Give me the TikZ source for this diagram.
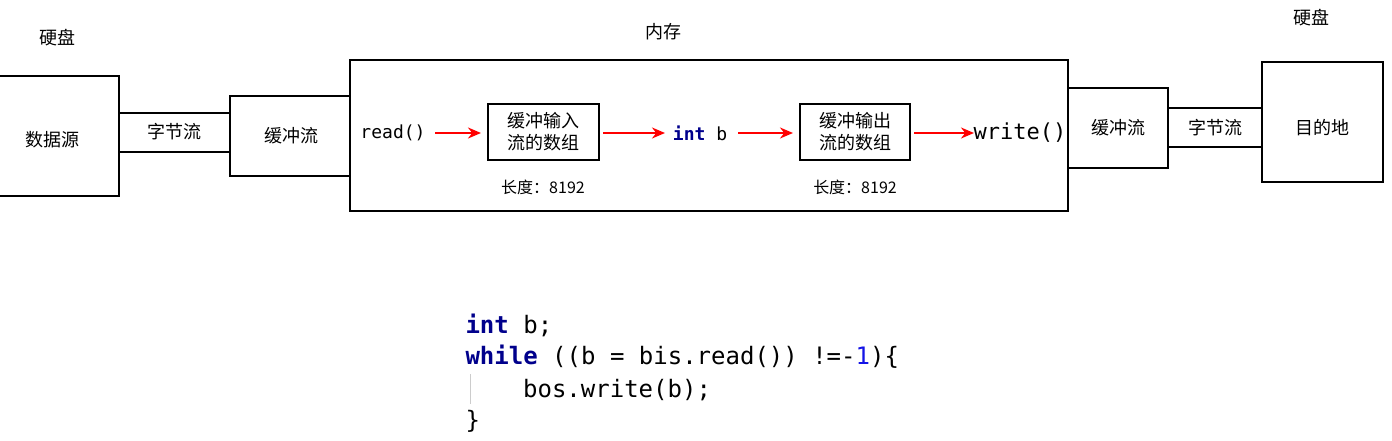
\documentclass[tikz,border=0pt]{standalone}
\usepackage{fontspec}
\setmainfont{Liberation Serif}
\setmonofont{DejaVu Sans Mono}
\newfontfamily\cjk{Noto Sans CJK SC}
\usetikzlibrary{arrows.meta}
\definecolor{kw}{RGB}{0,0,140}
\definecolor{num}{RGB}{20,20,230}
\begin{document}
\begin{tikzpicture}[x=1pt,y=-1pt,
  bx/.style={draw,line width=1.2pt,inner sep=0pt},
  lbl/.style={font=\cjk\fontsize{18}{22}\selectfont},
  ra/.style={draw=red,line width=2.2pt,-{Stealth[length=13pt,width=11pt]}},
  code/.style={anchor=west,font=\ttfamily\fontsize{24}{28}\selectfont}]
\useasboundingbox (0,0) rectangle (1392,441);
\node[lbl] (h1) at (57,38) {硬盘};
\node[lbl] (nc) at (663,32) {内存};
\node[lbl] (h2) at (1311,18) {硬盘};
\draw[bx] (-2,76) rectangle (119,196); \node[lbl] (src) at (52,140) {数据源};
\draw[bx] (119,113) rectangle (230,152); \node[lbl] (bs1) at (174,132) {字节流};
\draw[bx] (230,96) rectangle (350,176); \node[lbl] (bf1) at (291,136) {缓冲流};
\draw[bx] (350,60) rectangle (1068,211);
\node[font=\ttfamily\fontsize{18}{22}\selectfont] (rd) at (393,133) {read()};
\draw[bx] (488,104) rectangle (599,160);
\node[lbl,align=center] (ib) at (543,132) {缓冲输入\\流的数组};
\node[font=\ttfamily\fontsize{18}{22}\selectfont] (ib2) at (700,133) {\textcolor{kw}{\bfseries int} b};
\draw[bx] (800,104) rectangle (910,160);
\node[lbl,align=center] (ob) at (855,132) {缓冲输出\\流的数组};
\node[font=\ttfamily\fontsize{22}{26}\selectfont] (wr) at (1020,133) {write()};
\draw[ra] (435,133) -- (481,133);
\draw[ra] (603,133) -- (665,133);
\draw[ra] (738,133) -- (793,133);
\draw[ra] (914,133) -- (974,133);
\node[font=\cjk\fontsize{16}{18}\selectfont] (l1) at (543,187) {长度：8192};
\node[font=\cjk\fontsize{16}{18}\selectfont] (l2) at (855,187) {长度：8192};
\draw[bx] (1068,88) rectangle (1168,168); \node[lbl] (bf2) at (1118,128) {缓冲流};
\draw[bx] (1168,108) rectangle (1262,147); \node[lbl] (bs2) at (1215,128) {字节流};
\draw[bx] (1262,62) rectangle (1383,182); \node[lbl] (dst) at (1322,128) {目的地};
\node[code] (c1) at (462,325) {\textcolor{kw}{\bfseries int} b;};
\node[code] (c2) at (462,357) {\textcolor{kw}{\bfseries while} ((b = bis.read()) !=-\textcolor{num}{1})\{};
\node[code] (c3) at (462,390) {\hspace{2.4em}bos.write(b);};
\node[code] (c4) at (462,421) {\}};
\draw[gray!40] (470,374) -- (470,404);
\end{tikzpicture}
\end{document}
